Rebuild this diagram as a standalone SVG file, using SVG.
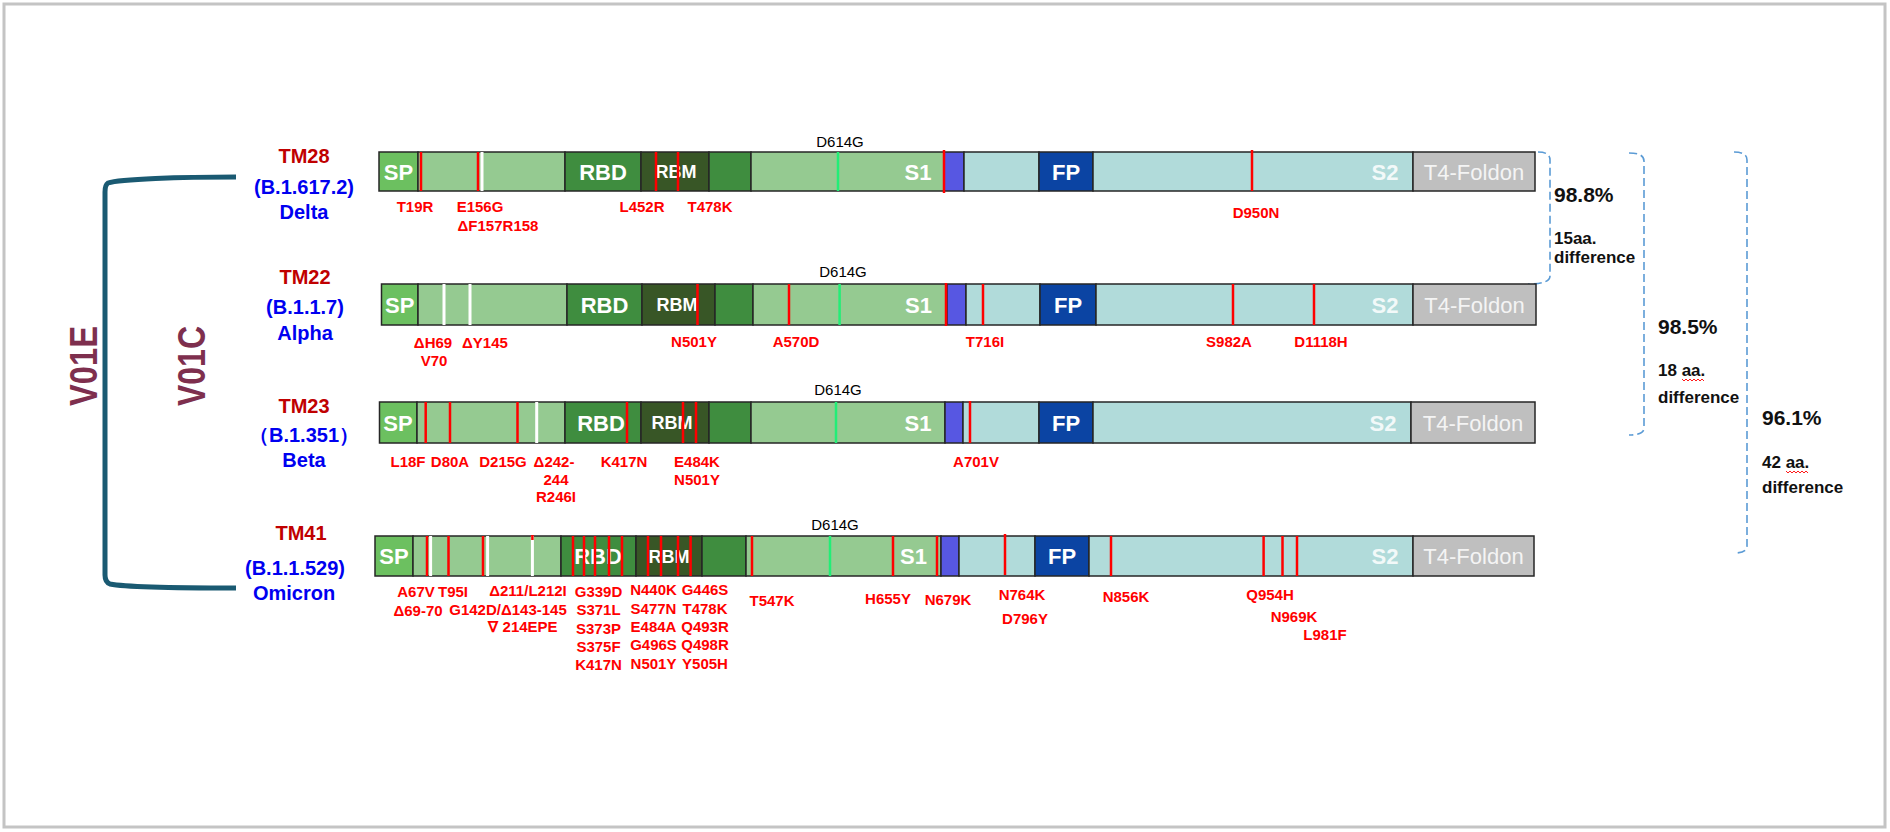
<svg xmlns="http://www.w3.org/2000/svg" width="1890" height="832" viewBox="0 0 1890 832">
<style>
text{font-family:"Liberation Sans",Arial,sans-serif}
.seg{stroke:#262626;stroke-width:1.5}
.sp{fill:#6CC060}.lg{fill:#95CA91}.rbd{fill:#3F8D3F}.rbm{fill:#385626}.pu{fill:#5757E2}.te{fill:#B1DBDA}.fp{fill:#0B44A3}.t4{fill:#BFBFBF}
.mr{stroke:#FF0000;stroke-width:2.5}
.mw{stroke:#FFFFFF;stroke-width:3}
.mg{stroke:#22EE77;stroke-width:2.5}
.in{font-weight:bold;fill:#FFFFFF;text-anchor:middle;font-size:22px}
.sm{font-size:18px}
.s2{fill:#FFFFFF;fill-opacity:0.85}
.t4t{font-weight:normal;fill:#F4F4F4}
.mut{font-weight:bold;font-size:15px;fill:#FF0000;text-anchor:middle}
.dg{font-size:15px;fill:#000;text-anchor:middle}
.tm{font-weight:bold;font-size:20px;fill:#C00000;text-anchor:middle}
.vn{font-weight:bold;font-size:20px;fill:#0000F0;text-anchor:middle}
.pct{font-weight:bold;font-size:21px;fill:#111}
.aa{font-weight:bold;font-size:17px;fill:#111}
.br{fill:none;stroke:#5B9BD5;stroke-width:1.6;stroke-dasharray:8 4}
.vo{font-size:39px;font-weight:bold;fill:#7E2F4E;text-anchor:middle}
</style>
<rect x="4" y="4" width="1881" height="823" fill="#FFFFFF" stroke="#C4C4C4" stroke-width="3"/>

<g id="connectors">
<path d="M236,177 C180,177 120,179 108,183 Q105,185 105,192 L105,575 Q105,582 110,584 C125,587 180,588 236,588" fill="none" stroke="#1A5A72" stroke-width="5"/>
<path class="br" d="M1538,152 Q1550,152 1550,160 L1550,276 Q1550,284 1528,284"/>
<path class="br" d="M1629,153 Q1644,153 1644,161 L1644,428 Q1644,435 1629,435"/>
<path class="br" d="M1734,152 Q1747,152 1747,160 L1747,546 Q1747,553 1734,553"/>
</g>

<g id="group-labels">
<text class="vo" transform="translate(83,366) rotate(-90)" y="14" textLength="80" lengthAdjust="spacingAndGlyphs">V01E</text>
<text class="vo" transform="translate(191,366) rotate(-90)" y="14" textLength="80" lengthAdjust="spacingAndGlyphs">V01C</text>
</g>

<g id="tm28">
<text class="tm" x="304" y="163">TM28</text>
<text class="vn" x="304" y="194">(B.1.617.2)</text>
<text class="vn" x="304" y="219">Delta</text>
<rect class="seg sp" x="379" y="152" width="39" height="39"/>
<rect class="seg lg" x="418" y="152" width="147" height="39"/>
<rect class="seg rbd" x="565" y="152" width="76" height="39"/>
<rect class="seg rbm" x="641" y="152" width="68" height="39"/>
<rect class="seg rbd" x="709" y="152" width="42" height="39"/>
<rect class="seg lg" x="751" y="152" width="193" height="39"/>
<rect class="seg pu" x="944" y="152" width="20" height="39"/>
<rect class="seg te" x="964" y="152" width="75" height="39"/>
<rect class="seg fp" x="1039" y="152" width="54" height="39"/>
<rect class="seg te" x="1093" y="152" width="320" height="39"/>
<rect class="seg t4" x="1413" y="152" width="122" height="39"/>
<text class="in" x="398.5" y="179.5" font-size="21">SP</text>
<text class="in" x="603" y="179.5">RBD</text>
<text class="in sm" x="676" y="178">RBM</text>
<text class="in" x="918" y="179.5">S1</text>
<text class="in" x="1066" y="179.5">FP</text>
<text class="in s2" x="1385" y="179.5">S2</text>
<text class="in t4t" x="1474" y="179.5">T4-Foldon</text>
<line class="mr" x1="421" y1="152" x2="421" y2="191"/>
<line class="mw" x1="482" y1="152" x2="482" y2="191"/>
<line class="mr" x1="478" y1="152" x2="478" y2="191"/>
<line class="mr" x1="656" y1="152" x2="656" y2="191"/>
<line class="mr" x1="678" y1="152" x2="678" y2="191"/>
<line class="mg" x1="838" y1="152" x2="838" y2="191"/>
<line class="mr" x1="944" y1="150" x2="944" y2="193"/>
<line class="mr" x1="1252" y1="150" x2="1252" y2="191"/>
<text class="dg" x="840" y="147">D614G</text>
<text class="mut" x="415" y="212">T19R</text>
<text class="mut" x="480" y="212">E156G</text>
<text class="mut" x="498" y="231">ΔF157R158</text>
<text class="mut" x="642" y="212">L452R</text>
<text class="mut" x="710" y="212">T478K</text>
<text class="mut" x="1256" y="218">D950N</text>
</g>

<g id="tm22">
<text class="tm" x="305" y="284">TM22</text>
<text class="vn" x="305" y="314">(B.1.1.7)</text>
<text class="vn" x="305" y="340">Alpha</text>
<rect class="seg sp" x="381.5" y="284" width="36.5" height="41"/>
<rect class="seg lg" x="418" y="284" width="149" height="41"/>
<rect class="seg rbd" x="567" y="284" width="75" height="41"/>
<rect class="seg rbm" x="642" y="284" width="73" height="41"/>
<rect class="seg rbd" x="715" y="284" width="38" height="41"/>
<rect class="seg lg" x="753" y="284" width="193" height="41"/>
<rect class="seg pu" x="947" y="284" width="19" height="41"/>
<rect class="seg te" x="966" y="284" width="74" height="41"/>
<rect class="seg fp" x="1040" y="284" width="56" height="41"/>
<rect class="seg te" x="1096" y="284" width="317" height="41"/>
<rect class="seg t4" x="1413" y="284" width="123" height="41"/>
<text class="in" x="399.8" y="312.5" font-size="21">SP</text>
<text class="in" x="604.5" y="312.5">RBD</text>
<text class="in sm" x="677" y="311">RBM</text>
<text class="in" x="918.5" y="312.5">S1</text>
<text class="in" x="1068" y="312.5">FP</text>
<text class="in s2" x="1385" y="312.5">S2</text>
<text class="in t4t" x="1474.5" y="312.5">T4-Foldon</text>
<line class="mw" x1="444" y1="284" x2="444" y2="325"/>
<line class="mw" x1="470" y1="284" x2="470" y2="325"/>
<line class="mr" x1="697.5" y1="284" x2="697.5" y2="325"/>
<line class="mr" x1="789" y1="284" x2="789" y2="325"/>
<line class="mg" x1="839.6" y1="284" x2="839.6" y2="325"/>
<line class="mr" x1="946" y1="283" x2="946" y2="326"/>
<line class="mr" x1="983" y1="284" x2="983" y2="325"/>
<line class="mr" x1="1233" y1="284" x2="1233" y2="325"/>
<line class="mr" x1="1314" y1="284" x2="1314" y2="325"/>
<text class="dg" x="843" y="277">D614G</text>
<text class="mut" x="433" y="348">ΔH69</text>
<text class="mut" x="434" y="366">V70</text>
<text class="mut" x="485" y="348">ΔY145</text>
<text class="mut" x="694" y="347">N501Y</text>
<text class="mut" x="796" y="347">A570D</text>
<text class="mut" x="985" y="347">T716I</text>
<text class="mut" x="1229" y="347">S982A</text>
<text class="mut" x="1321" y="347">D1118H</text>
</g>

<g id="tm23">
<text class="tm" x="304" y="413">TM23</text>
<text class="vn" y="442" style="text-anchor:start" font-family="'Liberation Sans','Noto Sans CJK SC',sans-serif"><tspan x="249">（</tspan><tspan x="269">B.1.351</tspan><tspan x="339">）</tspan></text>
<text class="vn" x="304" y="467">Beta</text>
<rect class="seg sp" x="379.5" y="402" width="37.5" height="41"/>
<rect class="seg lg" x="417" y="402" width="148" height="41"/>
<rect class="seg rbd" x="565" y="402" width="76" height="41"/>
<rect class="seg rbm" x="641" y="402" width="68" height="41"/>
<rect class="seg rbd" x="709" y="402" width="42" height="41"/>
<rect class="seg lg" x="751" y="402" width="194" height="41"/>
<rect class="seg pu" x="945" y="402" width="18" height="41"/>
<rect class="seg te" x="963" y="402" width="76" height="41"/>
<rect class="seg fp" x="1039" y="402" width="54" height="41"/>
<rect class="seg te" x="1093" y="402" width="318" height="41"/>
<rect class="seg t4" x="1411" y="402" width="124" height="41"/>
<text class="in" x="398" y="430.5" font-size="21">SP</text>
<text class="in" x="601" y="430.5">RBD</text>
<text class="in sm" x="672" y="429">RBM</text>
<text class="in" x="918" y="430.5">S1</text>
<text class="in" x="1066" y="430.5">FP</text>
<text class="in s2" x="1383" y="430.5">S2</text>
<text class="in t4t" x="1473" y="430.5">T4-Foldon</text>
<line class="mr" x1="425.7" y1="402" x2="425.7" y2="443"/>
<line class="mr" x1="450" y1="402" x2="450" y2="443"/>
<line class="mr" x1="517.5" y1="402" x2="517.5" y2="443"/>
<line class="mw" x1="536.7" y1="402" x2="536.7" y2="443"/>
<line class="mr" x1="627" y1="402" x2="627" y2="443"/>
<line class="mr" x1="683" y1="402" x2="683" y2="443"/>
<line class="mr" x1="696" y1="402" x2="696" y2="443"/>
<line class="mg" x1="836" y1="402" x2="836" y2="443"/>
<line class="mr" x1="970" y1="401" x2="970" y2="443"/>
<text class="dg" x="838" y="395">D614G</text>
<text class="mut" x="408" y="467">L18F</text>
<text class="mut" x="450" y="467">D80A</text>
<text class="mut" x="503" y="467">D215G</text>
<text class="mut" x="554" y="467">Δ242-</text>
<text class="mut" x="556" y="485">244</text>
<text class="mut" x="556" y="502">R246I</text>
<text class="mut" x="624" y="467">K417N</text>
<text class="mut" x="697" y="467">E484K</text>
<text class="mut" x="697" y="485">N501Y</text>
<text class="mut" x="976" y="467">A701V</text>
</g>

<g id="tm41">
<text class="tm" x="301" y="540">TM41</text>
<text class="vn" x="295" y="575">(B.1.1.529)</text>
<text class="vn" x="294" y="600">Omicron</text>
<rect class="seg sp" x="375" y="536" width="38" height="40"/>
<rect class="seg lg" x="413" y="536" width="148" height="40"/>
<rect class="seg rbd" x="561" y="536" width="75" height="40"/>
<rect class="seg rbm" x="636" y="536" width="66" height="40"/>
<rect class="seg rbd" x="702" y="536" width="44" height="40"/>
<rect class="seg lg" x="746" y="536" width="195" height="40"/>
<rect class="seg pu" x="941" y="536" width="18" height="40"/>
<rect class="seg te" x="959" y="536" width="76" height="40"/>
<rect class="seg fp" x="1035" y="536" width="54" height="40"/>
<rect class="seg te" x="1089" y="536" width="324" height="40"/>
<rect class="seg t4" x="1413" y="536" width="121" height="40"/>
<text class="in" x="394" y="564" font-size="21">SP</text>
<text class="in" x="598" y="564">RBD</text>
<text class="in sm" x="669" y="562.5">RBM</text>
<text class="in" x="913.5" y="564">S1</text>
<text class="in" x="1062" y="564">FP</text>
<text class="in s2" x="1385" y="564">S2</text>
<text class="in t4t" x="1473.5" y="564">T4-Foldon</text>
<line class="mr" x1="427" y1="536" x2="427" y2="576"/>
<line class="mw" x1="430.6" y1="536" x2="430.6" y2="576"/>
<line class="mr" x1="448.5" y1="536" x2="448.5" y2="576"/>
<line class="mr" x1="483" y1="536" x2="483" y2="576"/>
<line class="mw" x1="487.6" y1="536" x2="487.6" y2="576"/>
<line class="mw" x1="532.4" y1="536" x2="532.4" y2="576"/>
<line class="mr" x1="532.4" y1="535" x2="532.4" y2="540"/>
<line class="mr" x1="573" y1="536" x2="573" y2="576"/>
<line class="mr" x1="584" y1="536" x2="584" y2="576"/>
<line class="mr" x1="595" y1="536" x2="595" y2="576"/>
<line class="mr" x1="609" y1="536" x2="609" y2="576"/>
<line class="mr" x1="622" y1="536" x2="622" y2="576"/>
<line class="mr" x1="648" y1="536" x2="648" y2="576"/>
<line class="mr" x1="661" y1="536" x2="661" y2="576"/>
<line class="mr" x1="678" y1="536" x2="678" y2="576"/>
<line class="mr" x1="690.6" y1="536" x2="690.6" y2="576"/>
<line class="mr" x1="752" y1="536" x2="752" y2="576"/>
<line class="mg" x1="830" y1="536" x2="830" y2="576"/>
<line class="mr" x1="893" y1="536" x2="893" y2="576"/>
<line class="mr" x1="937" y1="536" x2="937" y2="576"/>
<line class="mr" x1="1005" y1="534" x2="1005" y2="575"/>
<line class="mr" x1="1111" y1="536" x2="1111" y2="576"/>
<line class="mr" x1="1263.6" y1="536" x2="1263.6" y2="576"/>
<line class="mr" x1="1282.5" y1="536" x2="1282.5" y2="576"/>
<line class="mr" x1="1297" y1="536" x2="1297" y2="576"/>
<text class="dg" x="835" y="530">D614G</text>
<text class="mut" x="416" y="597">A67V</text>
<text class="mut" x="453" y="597">T95I</text>
<text class="mut" x="418" y="616">Δ69-70</text>
<text class="mut" x="528" y="596">Δ211/L212I</text>
<text class="mut" x="508" y="615">G142D/Δ143-145</text>
<text class="mut" x="523" y="632">∇ 214EPE</text>
<text class="mut" x="598.5" y="597">G339D</text>
<text class="mut" x="598.5" y="615">S371L</text>
<text class="mut" x="598.5" y="634">S373P</text>
<text class="mut" x="598.5" y="652">S375F</text>
<text class="mut" x="598.5" y="670">K417N</text>
<text class="mut" x="653.5" y="595">N440K</text>
<text class="mut" x="653.5" y="614">S477N</text>
<text class="mut" x="653.5" y="632">E484A</text>
<text class="mut" x="653.5" y="650">G496S</text>
<text class="mut" x="653.5" y="669">N501Y</text>
<text class="mut" x="705" y="595">G446S</text>
<text class="mut" x="705" y="614">T478K</text>
<text class="mut" x="705" y="632">Q493R</text>
<text class="mut" x="705" y="650">Q498R</text>
<text class="mut" x="705" y="669">Y505H</text>
<text class="mut" x="772" y="606">T547K</text>
<text class="mut" x="888" y="604">H655Y</text>
<text class="mut" x="948" y="605">N679K</text>
<text class="mut" x="1022" y="600">N764K</text>
<text class="mut" x="1025" y="624">D796Y</text>
<text class="mut" x="1126" y="602">N856K</text>
<text class="mut" x="1270" y="600">Q954H</text>
<text class="mut" x="1294" y="622">N969K</text>
<text class="mut" x="1325" y="640">L981F</text>
</g>

<g id="identity-1">
<text class="pct" x="1554" y="202">98.8%</text>
<text class="aa" x="1554" y="244">15aa.</text>
<text class="aa" x="1554" y="263">difference</text>
</g>
<g id="identity-2">
<text class="pct" x="1658" y="334">98.5%</text>
<text class="aa" x="1658" y="376">18 aa.</text>
<path d="M1682,379 l2,2 l2,-2 l2,2 l2,-2 l2,2 l2,-2 l2,2 l2,-2 l2,2 l2,-2 l2,2" fill="none" stroke="#FF0000" stroke-width="0.9"/>
<text class="aa" x="1658" y="403">difference</text>
</g>
<g id="identity-3">
<text class="pct" x="1762" y="425">96.1%</text>
<text class="aa" x="1762" y="468">42 aa.</text>
<path d="M1786,471 l2,2 l2,-2 l2,2 l2,-2 l2,2 l2,-2 l2,2 l2,-2 l2,2 l2,-2 l2,2" fill="none" stroke="#FF0000" stroke-width="0.9"/>
<text class="aa" x="1762" y="493">difference</text>
</g>
</svg>
